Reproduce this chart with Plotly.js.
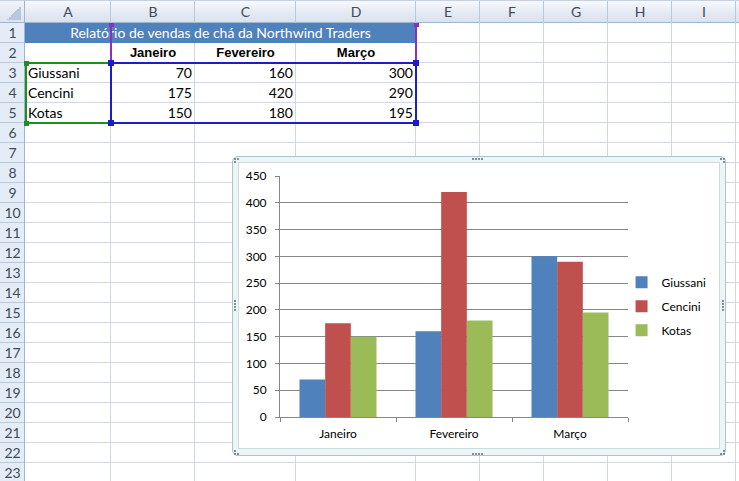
<!DOCTYPE html>
<html><head><meta charset="utf-8">
<script src="https://cdn.plot.ly/plotly-3.0.1.min.js"></script>
<style>
body{margin:0;width:739px;height:481px;overflow:hidden;background:#fff;position:relative;font-family:Lato,sans-serif}
.a{position:absolute;box-sizing:border-box}
</style></head><body>
<div id="sheet"></div>
<div id="chart" class="a" style="left:239px;top:163px;width:480px;height:285px"></div>
<script>
// ---- data ----
const reportTitle = 'Relatório de vendas de chá da Northwind Traders';
const months = ['Janeiro', 'Fevereiro', 'Março'];
const sellers = ['Giussani', 'Cencini', 'Kotas'];
const giussani = [70, 160, 300];
const cencini = [175, 420, 290];
const kotas = [150, 180, 195];
const colLetters = ['A', 'B', 'C', 'D', 'E', 'F', 'G', 'H', 'I'];
const seriesColors = ['#4F81BD', '#C0504D', '#9BBB59'];

// ---- spreadsheet (HTML) ----
const sheet = document.getElementById('sheet');
const colEdges = [25, 111, 195, 296, 416, 480, 544, 608, 672, 736, 800];
const rowTop = 23, rowH = 20, nRows = 23;
function box(l, t, w, h, css, txt) {
  const d = document.createElement('div');
  d.className = 'a';
  d.style.cssText = `left:${l}px;top:${t}px;width:${w}px;height:${h}px;` + (css || '');
  if (txt !== undefined) d.textContent = txt;
  sheet.appendChild(d);
  return d;
}
// gridlines
for (let k = 1; k <= nRows; k++) box(25, rowTop + k * rowH - 1, 739, 1, 'background:#D0D7E5');
for (let c = 1; c < colEdges.length; c++) box(colEdges[c] - 1, rowTop, 1, 458, 'background:#D0D7E5');
// column header
box(0, 0, 739, 23, 'background:linear-gradient(#F7F9FC,#E4EAF4 55%,#DAE2EE);border-top:1px solid #C5D2E2;border-bottom:1px solid #9EB6CE');
for (let c = 0; c < colLetters.length; c++) {
  box(colEdges[c + 1] - 1, 1, 1, 22, 'background:#B8C9DC');
  box(colEdges[c], 2, colEdges[c + 1] - colEdges[c], 20,
      'text-align:center;font:14px Lato,sans-serif;line-height:20px;color:#3E4A5A', colLetters[c]);
}
// corner
box(0, 0, 25, 23, 'background:linear-gradient(#F0F3F8,#DCE4EF);border-right:1px solid #9EB6CE;border-bottom:1px solid #9EB6CE;border-top:1px solid #C5D2E2');
box(7, 6, 14, 14, 'background:linear-gradient(135deg,transparent 50%,#B8C8DA 50%)');
// row header
box(0, 23, 25, 458, 'background:#E4ECF7;border-right:1px solid #9EB6CE');
for (let r = 1; r <= nRows; r++) {
  box(0, rowTop + r * rowH - 1, 24, 1, 'background:#B8C9DC');
  box(0, rowTop + (r - 1) * rowH, 25, rowH - 1,
      'text-align:center;font:14px Lato,sans-serif;line-height:19px;color:#3E4A5A', String(r));
}
// title row (merged A1:D1)
box(25, 23, 391, 20, 'background:#4F81BD;color:#fff;text-align:center;font:14px Lato,sans-serif;line-height:20px', reportTitle);
// month headers
months.forEach((m, i) => box(colEdges[i + 1], 43, colEdges[i + 2] - colEdges[i + 1], 20,
  'text-align:center;font:bold 13px "Liberation Sans",Arial,sans-serif;line-height:20px;color:#000', m));
// names and values
const table = [giussani, cencini, kotas];
sellers.forEach((s, r) => {
  const t = 63 + r * 20;
  box(28, t, 83, 20, 'font:14px Lato,sans-serif;line-height:20px;color:#000', s);
  table[r].forEach((v, i) => box(colEdges[i + 1], t, colEdges[i + 2] - colEdges[i + 1] - 3, 20,
    'text-align:right;font:14px Lato,sans-serif;line-height:20px;color:#000', String(v)));
});
// selection outlines
box(110, 23, 2, 41, 'background:#8E2FC0');
box(415, 23, 2, 41, 'background:#8E2FC0');
box(109, 23, 5, 4, 'background:#8E2FC0');
box(414, 23, 5, 4, 'background:#8E2FC0');
box(25, 62, 87, 62, 'border:2px solid #1E8E1E');
box(110, 62, 307, 62, 'border:2px solid #1C1CC8');
[[25, 63], [25, 123]].forEach(p => box(p[0] - 1, p[1] - 2, 5, 5, 'background:#1E8E1E'));
[[111, 63], [416, 63], [111, 123], [416, 123]].forEach(p => box(p[0] - 3, p[1] - 3, 6, 6, 'background:#1C1CC8'));

// chart frame
box(232, 156, 494, 300, 'border:1px solid #A8C6CE;border-radius:6px;background:#EEF5F7');
box(238, 162, 482, 287, 'border:1px solid #C9DCE1;background:#fff');
function dots(x, y, n, vertical) {
  for (let i = 0; i < n; i++) box(x + (vertical ? 0 : i * 3), y + (vertical ? i * 3 : 0), 2, 2, 'background:#7F8F9C');
}
dots(472, 158, 4, false);
dots(472, 453, 4, false);
dots(234, 300, 4, true);
dots(722, 300, 4, true);
dots(234, 158, 2, false); dots(234, 161, 1, false);
dots(720, 158, 2, false); dots(723, 161, 1, false);
dots(234, 453, 2, false); dots(234, 450, 1, false);
dots(720, 453, 2, false); dots(723, 450, 1, false);

// ---- chart (Plotly) ----
const seriesValues = [giussani, cencini, kotas];
const data = sellers.map((s, i) => ({
  type: 'bar', name: s, x: months, y: seriesValues[i], legendgroup: s,
  marker: {color: seriesColors[i], line: {width: 0}}
}));
const axisGray = '#868686';
const layout = {
  width: 480, height: 285,
  margin: {l: 41, r: 91, t: 13, b: 31, pad: 0, autoexpand: false},
  paper_bgcolor: 'rgba(255,255,255,0)', plot_bgcolor: '#fff',
  barmode: 'group', bargap: 0.336, bargroupgap: 0,
  font: {family: 'Lato, sans-serif', size: 12, color: '#000'},
  showlegend: true,
  xaxis: {type: 'category', tickson: 'boundaries', ticks: 'outside', ticklen: 4, tickcolor: axisGray,
          showline: true, linecolor: axisGray, linewidth: 1, showgrid: false, zeroline: false,
          tickfont: {size: 12}, ticklabelstandoff: 6, fixedrange: true, automargin: false},
  yaxis: {range: [0, 450], tick0: 0, dtick: 50, showgrid: true, gridcolor: axisGray, gridwidth: 1,
          showline: true, linecolor: axisGray, linewidth: 1, ticks: 'outside', ticklen: 4, tickcolor: axisGray,
          zeroline: false, tickfont: {size: 12}, ticklabelstandoff: 6, fixedrange: true, automargin: false},
  legend: {xref: 'container', x: 0.797, xanchor: 'left', y: 0.46, yanchor: 'middle', tracegroupgap: 5,
           font: {size: 12}, bgcolor: 'rgba(0,0,0,0)', borderwidth: 0, traceorder: 'grouped'}
};
Plotly.newPlot('chart', data, layout, {displayModeBar: false, staticPlot: true});
</script>
</body></html>
